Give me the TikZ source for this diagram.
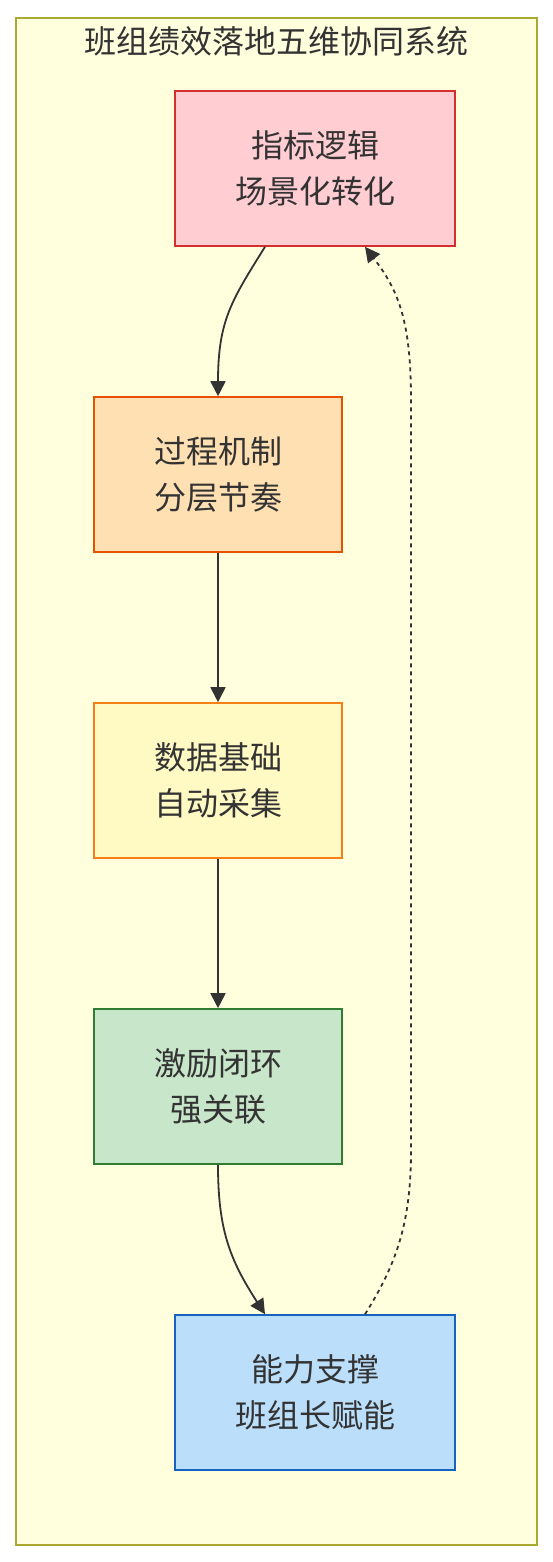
\documentclass[tikz,border=0pt]{standalone}
\usepackage{fontspec}
\setmainfont{Noto Sans CJK SC}
\usetikzlibrary{arrows.meta}
\definecolor{txt}{HTML}{333333}
\definecolor{bgfill}{HTML}{FFFFDE}
\definecolor{bgline}{HTML}{AAAA33}
\definecolor{redfill}{HTML}{FFCDD2}\definecolor{redline}{HTML}{D32F2F}
\definecolor{orgfill}{HTML}{FFE0B2}\definecolor{orgline}{HTML}{E65100}
\definecolor{yelfill}{HTML}{FFF9C4}\definecolor{yelline}{HTML}{F57F17}
\definecolor{grnfill}{HTML}{C8E6C9}\definecolor{grnline}{HTML}{2E7D32}
\definecolor{blufill}{HTML}{BBDEFB}\definecolor{bluline}{HTML}{1565C0}
\tikzset{
  stage/.style={draw, line width=1.6pt, minimum height=155pt, inner sep=0pt,
    align=center, text=txt, font=\fontsize{32}{46}\selectfont},
  wide/.style={minimum width=280pt},
  narrow/.style={minimum width=248pt},
  flow/.style={draw=txt, line width=1.8pt, -{Triangle[length=15pt,width=15pt]}},
  back/.style={flow, dash pattern=on 4pt off 4pt}
}
\begin{document}
\begin{tikzpicture}[x=1pt, y=-1pt]
    \useasboundingbox (0,0) rectangle (553,1562);
    % Frame
    \node[draw=bgline, fill=bgfill, line width=1.6pt, minimum width=521pt, minimum height=1527pt, inner sep=0pt] (frame) at (276.5,781.5) {};
    \node[text=txt, font=\fontsize{32}{36}\selectfont] (title) at (276.5,41) {班组绩效落地五维协同系统};

    % Stages
    \node[stage, wide, fill=redfill, draw=redline] (logic) at (315,168.5) {指标逻辑\\场景化转化};
    \node[stage, narrow, fill=orgfill, draw=orgline] (process) at (218,474.5) {过程机制\\分层节奏};
    \node[stage, narrow, fill=yelfill, draw=yelline] (data) at (218,780.5) {数据基础\\自动采集};
    \node[stage, narrow, fill=grnfill, draw=grnline] (reward) at (218,1086.5) {激励闭环\\强关联};
    \node[stage, wide, fill=blufill, draw=bluline] (ability) at (315,1392.5) {能力支撑\\班组长赋能};

    % Arrows
    \draw[flow] ([xshift=-50pt]logic.south) .. controls (232,300) and (218,320) .. (process.north);
    \draw[flow] (process) -- (data);
    \draw[flow] (data) -- (reward);
    \draw[flow] (reward.south) .. controls (218,1230) and (230,1260) .. ([xshift=-50pt]ability.north);

    % Feedback
    \draw[back] ([xshift=50pt]ability.north) .. controls (398,1262) and (411,1220) .. (411,1150)
      -- (411,400) .. controls (411,320) and (398,290) .. ([xshift=50pt]logic.south);
\end{tikzpicture}
\end{document}
